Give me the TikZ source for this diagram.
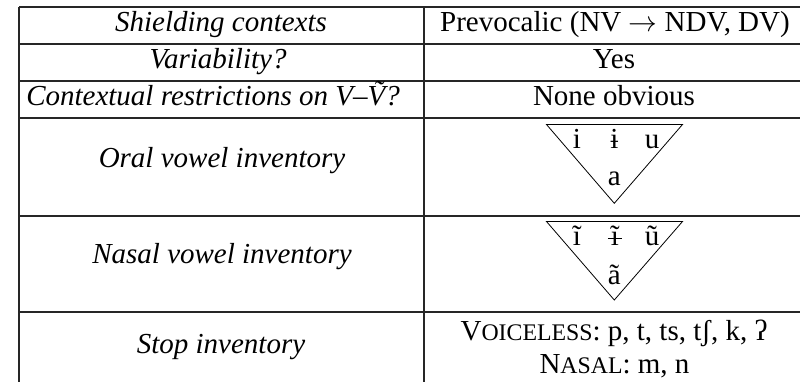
\documentclass[tikz,border=0pt]{standalone}
\usepackage{fontspec}
\setmainfont{Liberation Serif}
\newcommand{\fakesc}[2]{#1{\fontsize{11.9}{14}\selectfont #2}}
\begin{document}
\begin{tikzpicture}[x=0.5pt,y=-0.5pt,
  rule/.style={line width=0.65pt,draw=black!85},
  tri/.style={line width=0.4pt,draw=black},
  cell/.style={anchor=base,inner sep=0pt,font=\fontsize{14.5}{17}\selectfont},
  lab/.style={cell,font=\fontsize{14.5}{17}\selectfont\itshape}]
\useasboundingbox (0,0) rectangle (800,382);
% grid of the table
\draw[rule] (19,7) -- (800,7);
\draw[rule] (19,44) -- (800,44);
\draw[rule] (19,81) -- (800,81);
\draw[rule] (19,118) -- (800,118);
\draw[rule] (19,216) -- (800,216);
\draw[rule] (19,312) -- (800,312);
\draw[rule] (19,7) -- (19,382);
\draw[rule] (424,7) -- (424,382);
% left column labels
\node[lab] (h1) at (221,31.5) {Shielding contexts};
\node[lab] (h2) at (218,68.5) {Variability?};
\node[lab] (h3) at (213,105) {Contextual restrictions on V–\~{V}?};
\node[lab] (h4) at (222,167) {Oral vowel inventory};
\node[lab] (h5) at (222,263) {Nasal vowel inventory};
\node[lab] (h6) at (221,353) {Stop inventory};
% right column values
\node[cell] (v1) at (615,31.5) {Prevocalic (NV $\rightarrow$ NDV, DV)};
\node[cell] (v2) at (614,68.5) {Yes};
\node[cell] (v3) at (614,105) {None obvious};
% oral vowel triangle
\draw[tri] (546.5,124.5) -- (682.5,124.5) -- (614.3,203.3) -- cycle;
\node[cell] (oi) at (577,148.3) {i};
\node[cell] (obi) at (614.3,148.3) {ɨ};
\node[cell] (ou) at (652,148.3) {u};
\node[cell] (oa) at (614.3,185.7) {a};
% nasal vowel triangle
\draw[tri] (546.5,221.5) -- (682.5,221.5) -- (614.3,300) -- cycle;
\node[cell] (ni) at (577,245) {ĩ};
% barred i with tilde: tilded i crossed by a short bar
\node[cell] (nbi) at (615,245) {ĩ};
\draw[line width=0.55pt] ([xshift=-3.6pt,yshift=3.3pt]nbi.base) -- ([xshift=3.6pt,yshift=3.3pt]nbi.base);
\node[cell] (nu) at (652,245) {ũ};
\node[cell] (na) at (614.3,284) {ã};
% stops
\node[cell] (s1) at (614,340) {\fakesc{V}{OICELESS}: p, t, ts, tʃ, k, ʔ};
\node[cell] (s2) at (614.5,373) {\fakesc{N}{ASAL}: m, n};
\end{tikzpicture}
\end{document}
